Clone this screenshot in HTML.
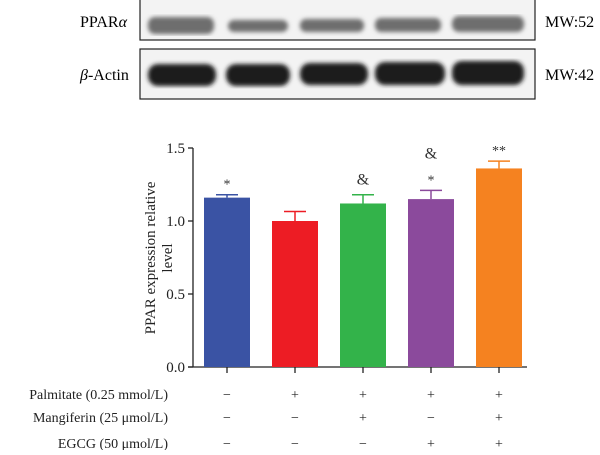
<!DOCTYPE html>
<html><head><meta charset="utf-8"><style>
body{margin:0;background:#fff;font-family:"Liberation Serif",serif;}
</style></head><body>
<svg width="600" height="450" viewBox="0 0 600 450" xmlns="http://www.w3.org/2000/svg">
<defs>
<filter id="blur"><feGaussianBlur stdDeviation="2"/></filter>
</defs>
<g>
<rect x="140" y="-1" width="395" height="41" fill="#f3f3f3" stroke="#222" stroke-width="1.2"/>
<rect x="140" y="49" width="395" height="50" fill="#f3f3f3" stroke="#222" stroke-width="1.2"/>
<g filter="url(#blur)" fill="#6e6e6e">
<rect x="148" y="17" width="66" height="17" rx="7"/>
<rect x="228" y="20" width="60" height="12" rx="6"/>
<rect x="300" y="19" width="64" height="13" rx="6"/>
<rect x="375" y="18" width="66" height="14" rx="6"/>
<rect x="452" y="16" width="72" height="16" rx="7"/>
</g>
<g filter="url(#blur)" fill="#1e1e1e">
<rect x="148" y="64" width="68" height="22" rx="10"/>
<rect x="226" y="64" width="64" height="22" rx="10"/>
<rect x="300" y="63" width="68" height="22" rx="10"/>
<rect x="375" y="62" width="70" height="23" rx="10"/>
<rect x="452" y="61" width="72" height="24" rx="10"/>
</g>
<text x="80" y="27" font-size="16">PPAR<tspan font-style="italic">α</tspan></text>
<text x="80" y="80" font-size="16"><tspan font-style="italic">β</tspan>-Actin</text>
<text x="545" y="27" font-size="16">MW:52</text>
<text x="545" y="80" font-size="16">MW:42</text>
</g>
<g id="chart"></g>
</svg>
<script>
const categories=["Control","Palmitate","Palmitate+Mangiferin","Palmitate+EGCG","Palmitate+Mangiferin+EGCG"];
const values=[1.16,1.0,1.12,1.15,1.36];
const errors=[0.02,0.065,0.06,0.06,0.05];
const colors=["#3a53a4","#ed1c24","#33b34a","#8b4a9c","#f58220"];
const annotations=[["*"],[],["&"],["*","&"],["**"]];
const yTicks=[0,0.5,1.0,1.5];
const rowLabels=["Palmitate (0.25 mmol/L)","Mangiferin (25 μmol/L)","EGCG (50 μmol/L)"];
const rowSigns=[["−","+","+","+","+"],["−","−","+","−","+"],["−","−","−","+","+"]];
const ns="http://www.w3.org/2000/svg";
const g=document.getElementById('chart');
const x0=193,y0=367,yTop=148,xEnd=527;
const y=v=>y0-(v/1.5)*(y0-yTop);
const bx=i=>227+i*68;
const bw=46;
function mk(t,a){const e=document.createElementNS(ns,t);for(const k in a)e.setAttribute(k,a[k]);g.appendChild(e);return e;}
let ax=mk('line',{x1:x0,y1:yTop,x2:x0,y2:y0,stroke:'#222','stroke-width':1.3});


let xa=mk('line',{x1:x0-5,y1:y0,x2:xEnd,y2:y0,stroke:'#222','stroke-width':1.3});


yTicks.forEach(t=>{
 let l=mk('line',{x1:x0-5,y1:y(t),x2:x0,y2:y(t),stroke:'#222','stroke-width':1.3});
 
 
 let tx=mk('text',{x:x0-8,y:y(t)+5,'font-size':15,'text-anchor':'end',fill:'#222'});
 tx.textContent=t.toFixed(1);
 
 
});
values.forEach((v,i)=>{
 const c=bx(i);
 let r=mk('rect',{x:c-bw/2,y:y(v),width:bw,height:y0-y(v),fill:colors[i]});
 
 
 const et=y(v+errors[i]);
 let e1=mk('line',{x1:c,y1:y(v),x2:c,y2:et,stroke:colors[i],'stroke-width':1.5});
 
 
 let e2=mk('line',{x1:c-11,y1:et,x2:c+11,y2:et,stroke:colors[i],'stroke-width':1.5});
 
 
 let tk=mk('line',{x1:c,y1:y0,x2:c,y2:y0+6,stroke:'#222','stroke-width':1.3});
 
 
 annotations[i].forEach((a,j)=>{
  let t=mk('text',{x:c,y:et-(a==='&'?10:6)-j*22,'font-size':a==='&'?16:14,'text-anchor':'middle',fill:'#333'});
  t.textContent=a;
  
  
 });
});
const rowY=[394,417,443];
rowLabels.forEach((lab,r)=>{
 let t=mk('text',{x:168,y:rowY[r]+5,'font-size':14,'text-anchor':'end',fill:'#222'});
 t.textContent=lab;
 
 
 rowSigns[r].forEach((s,i)=>{
  let st=mk('text',{x:bx(i),y:rowY[r]+5,'font-size':14,'text-anchor':'middle',fill:'#222'});
  st.textContent=s;
  
  
 });
});
let yt=mk('text',{transform:'translate(155,258) rotate(-90)','font-size':15,'text-anchor':'middle',fill:'#222'});
yt.textContent='PPAR expression relative';


let yt2=mk('text',{transform:'translate(172,258) rotate(-90)','font-size':15,'text-anchor':'middle',fill:'#222'});
yt2.textContent='level';


</script>
</body></html>
